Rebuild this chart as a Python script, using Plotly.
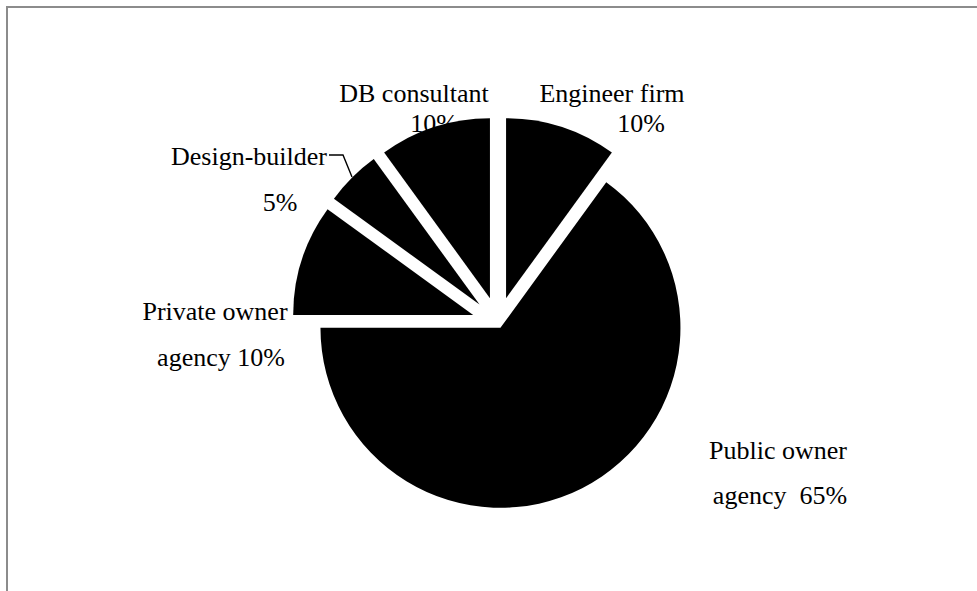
import plotly.graph_objects as go

# Share of respondents by organisation type
categories = ["Engineer firm", "Public owner agency", "Private owner agency",
              "Design-builder", "DB consultant"]
shares = [10, 65, 10, 5, 10]

# Label text: first line, and the prefix placed before the percentage
label_heads = ["Engineer firm", "Public owner", "Private owner",
               "Design-builder", "DB consultant"]
label_prefixes = ["", "agency\u00a0 ", "agency ", "", ""]

W, H = 977, 591

# Pie geometry (pixels): centre, radius, explosion per slice
cx, cy, r = 498, 323, 180
pulls = [0.145, 0.03, 0.145, 0.145, 0.145]
half = r * (1 + max(pulls))
dom_x = [(cx - half) / W, (cx + half) / W]
dom_y = [(H - cy - half) / H, (H - cy + half) / H]

# Label anchor points (pixels): name line and percentage line
head_pos = [(612, 95), (778, 452), (215, 313), (249, 158), (414, 95)]
tail_pos = [(641, 125), (780, 497), (221, 359), (280, 204), (434, 125)]

font = dict(family="Liberation Serif, Times New Roman, serif", size=26, color="black")

fig = go.Figure()

# Labels sit in the cartesian layer so the exploded slices draw over them
xs, ys, texts = [], [], []
for head, pre, v, hp, tp in zip(label_heads, label_prefixes, shares, head_pos, tail_pos):
    xs += [hp[0], tp[0]]
    ys += [hp[1], tp[1]]
    texts += [head, f"{pre}{v}%"]

fig.add_trace(go.Scatter(
    x=xs, y=ys, text=texts, mode="text", textposition="middle center",
    textfont=font, hoverinfo="skip", showlegend=False, cliponaxis=False,
))

fig.add_trace(go.Pie(
    labels=categories, values=shares, sort=False, direction="clockwise",
    rotation=0, pull=pulls, textinfo="none", hoverinfo="label+percent",
    marker=dict(colors=["#000000"] * len(shares), line=dict(width=0)),
    domain=dict(x=dom_x, y=dom_y), showlegend=False,
))

fig.update_layout(
    width=W, height=H,
    margin=dict(l=0, r=0, t=0, b=0),
    paper_bgcolor="white", plot_bgcolor="white",
    xaxis=dict(range=[0, W], visible=False, fixedrange=True),
    yaxis=dict(range=[H, 0], visible=False, fixedrange=True),
    shapes=[
        # chart frame (top and left edges)
        dict(type="path", xref="x", yref="y", path=f"M 7,{H} L 7,7 L {W},7",
             line=dict(color="#8c8c8c", width=2)),
        # leader line for the Design-builder label
        dict(type="path", xref="x", yref="y", path="M 329,155 L 343,155 L 352,177",
             line=dict(color="black", width=1.4)),
    ],
)

fig.write_html("out.html")
